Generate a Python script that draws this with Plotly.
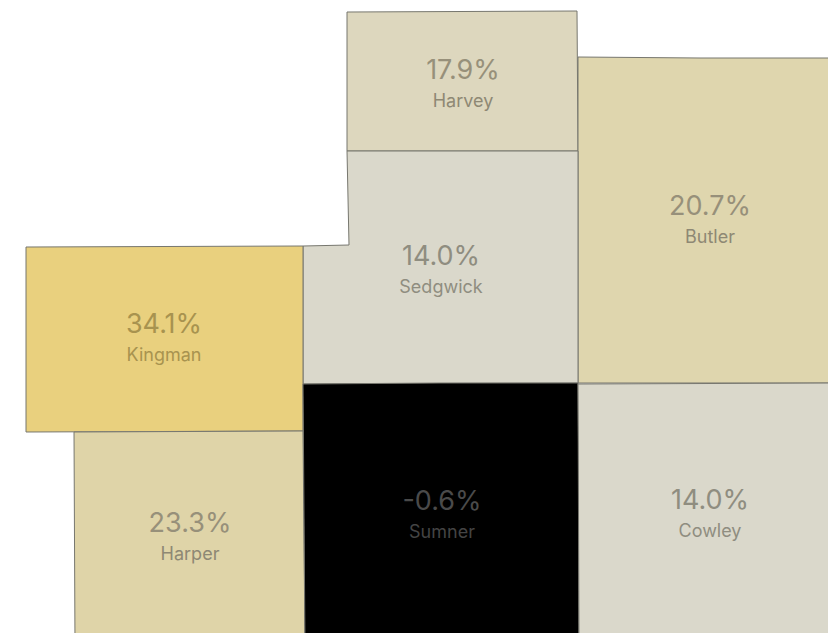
import plotly.graph_objects as go

names = ["Harvey", "Butler", "Sedgwick", "Kingman", "Harper", "Sumner", "Cowley"]
labels = ["17.9%", "20.7%", "14.0%", "34.1%", "23.3%", "-0.6%", "14.0%"]
fills = ["#ddd7be", "#dfd6ae", "#dad8cb", "#e9d07e", "#dfd4a8", "#000000", "#dad8cb"]
value_colors = ["#97907a", "#97907a", "#8f8d80", "#a8934f", "#97907a", "#4a4a4a", "#8f8d80"]
name_colors = ["#8e8874", "#8e8874", "#8f8d80", "#a8934f", "#8e8874", "#444444", "#8f8d80"]
label_x = [463, 710, 441, 164, 190, 442, 710]
label_y = [84, 220, 270, 338, 537, 515, 514]
outline_x = [
    [347, 577, 578, 347, 347],
    [578, 700, 840, 840, 578, 578],
    [347, 578, 578, 303, 303, 349, 347],
    [26, 303, 303, 26, 26],
    [74, 303, 305, 305, 75, 74],
    [303, 440, 578, 579, 579, 305, 303],
    [578, 840, 840, 579, 578],
]
outline_y = [
    [12, 11, 151, 151, 12],
    [57, 58, 58, 383, 383, 57],
    [151, 151, 383, 384, 246, 245, 151],
    [247, 246, 431, 432, 247],
    [432, 431, 645, 645, 645, 432],
    [384, 383, 383, 500, 645, 645, 384],
    [384, 383, 645, 645, 384],
]

fig = go.Figure()
for x, y, fill in zip(outline_x, outline_y, fills):
    fig.add_trace(go.Scatter(x=x, y=y, mode="lines", fill="toself", fillcolor=fill,
                             line=dict(color="#77776f", width=1), hoverinfo="skip"))
for i in range(len(names)):
    fig.add_trace(go.Scatter(x=[label_x[i]], y=[label_y[i] - 12], mode="text", text=[labels[i]],
                             textfont=dict(family="Inter, sans-serif", size=27, color=value_colors[i]),
                             hoverinfo="skip"))
    fig.add_trace(go.Scatter(x=[label_x[i]], y=[label_y[i] + 18], mode="text", text=[names[i]],
                             textfont=dict(family="Inter, sans-serif", size=18, color=name_colors[i]),
                             hoverinfo="skip"))

fig.update_layout(width=828, height=633, margin=dict(l=0, r=0, t=0, b=0), showlegend=False,
                  paper_bgcolor="white", plot_bgcolor="white",
                  xaxis=dict(range=[0, 828], visible=False, fixedrange=True),
                  yaxis=dict(range=[633, 0], visible=False, fixedrange=True))
fig.write_html("out.html", config=dict(displayModeBar=False),
               post_script="document.body.style.margin='0';document.documentElement.style.overflow='hidden';")
